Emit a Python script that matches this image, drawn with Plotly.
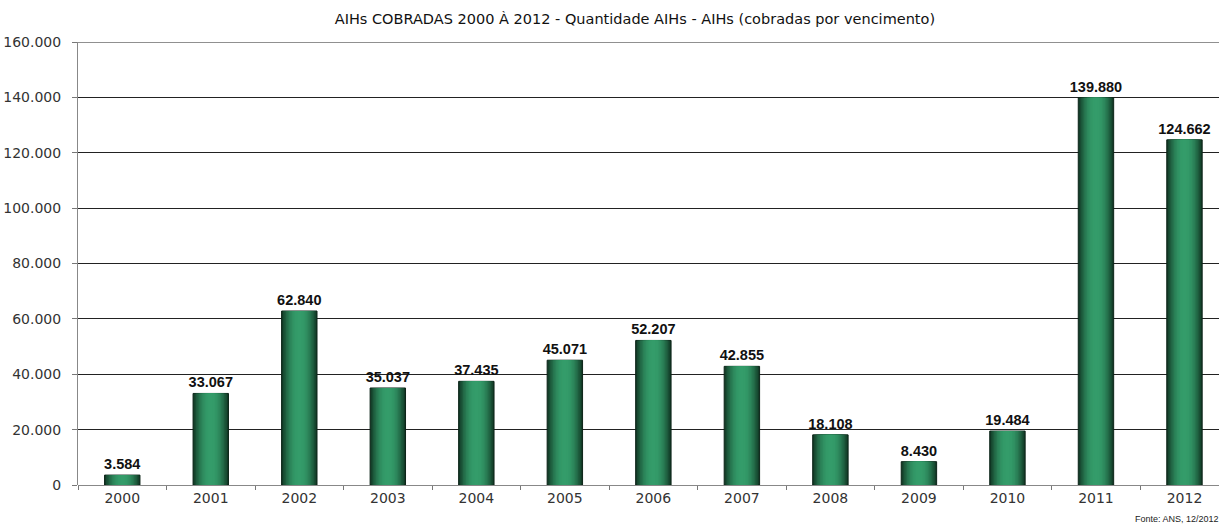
import plotly.graph_objects as go

years = ["2000", "2001", "2002", "2003", "2004", "2005", "2006",
         "2007", "2008", "2009", "2010", "2011", "2012"]
aihs = [3584, 33067, 62840, 35037, 37435, 45071, 52207,
        42855, 18108, 8430, 19484, 139880, 124662]

title_text = "AIHs COBRADAS 2000 À 2012 - Quantidade AIHs - AIHs (cobradas por vencimento)"
source_text = "Fonte: ANS, 12/2012"
y_top = 160000

BAR_W = 0.4
# nested layers give the cylinder-like shading: dark rim, light core
edge = (18, 58, 38)
core = (52, 156, 106)
n_layers = 12

fig = go.Figure()
for i in range(n_layers):
    t = i / (n_layers - 1)
    s = 1 - (1 - t) ** 2
    col = tuple(round(edge[k] + (core[k] - edge[k]) * s) for k in range(3))
    w = BAR_W * (1 - 0.9 * t)
    first = i == 0
    fig.add_trace(go.Bar(
        x=years, y=aihs, width=w,
        marker=dict(color="rgb(%d,%d,%d)" % col,
                    line=dict(color="#0c2418", width=1 if first else 0)),
        texttemplate="%{y:,}" if first else None,
        textposition="outside" if first else "none",
        constraintext="none",
        textfont=dict(family="Liberation Sans", size=14.5, color="#111",
                      weight="bold"),
        cliponaxis=False,
        hoverinfo="skip" if not first else None,
        showlegend=False,
    ))

# top border of the plotting area
fig.add_shape(type="line", xref="paper", yref="y", x0=0, x1=1,
              y0=y_top, y1=y_top, line=dict(color="#222", width=1))

fig.add_annotation(text=source_text, xref="paper", yref="paper",
                   x=1.0, y=0, xshift=2, yshift=-27, xanchor="right", yanchor="top",
                   showarrow=False,
                   font=dict(family="Liberation Sans", size=9, color="#222"))

fig.update_layout(
    width=1221, height=527,
    barmode="overlay",
    separators=",.",
    paper_bgcolor="white", plot_bgcolor="white",
    margin=dict(l=78, r=2, t=42, b=42),
    title=dict(text=title_text, x=0.52, xanchor="center", y=0.965, yanchor="middle",
               font=dict(family="DejaVu Sans", size=14.5, color="#111")),
    # the last category slot runs past the right edge of the frame
    xaxis=dict(type="category", range=[-0.5, 12.39],
               ticks="outside", tickson="boundaries",
               ticklen=4, tickcolor="#777", showline=False, showgrid=False,
               ticklabelstandoff=3,
               tickfont=dict(family="DejaVu Sans", size=14, color="#333")),
    yaxis=dict(range=[0, y_top], dtick=20000, tickformat=",d",
               showgrid=True, gridcolor="#222", gridwidth=1,
               zeroline=True, zerolinecolor="#888", zerolinewidth=1,
               showline=True, linecolor="#888", linewidth=1,
               ticks="outside", ticklen=5, tickcolor="#777",
               ticklabelstandoff=8,
               tickfont=dict(family="DejaVu Sans", size=14, color="#333")),
)

fig.write_html("out.html")
